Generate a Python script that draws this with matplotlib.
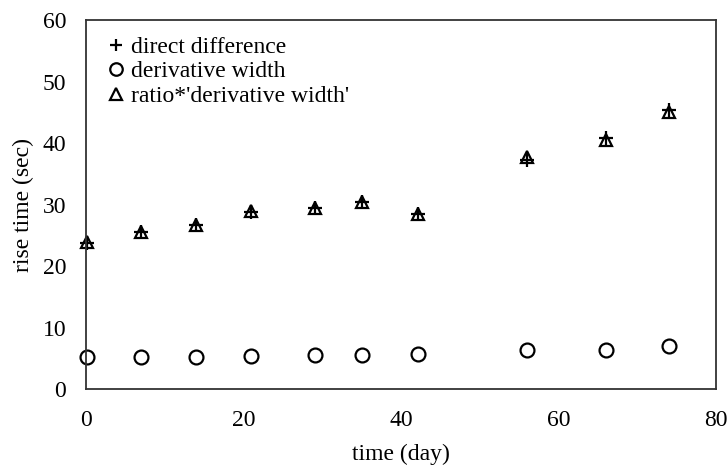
import matplotlib
matplotlib.use("Agg")
import matplotlib.pyplot as plt

plt.rcParams['font.family'] = ['Liberation Serif', 'DejaVu Serif']

# time in days
days = [0.1, 7.0, 14.0, 21.0, 29.1, 35.0, 42.2, 56.0, 66.0, 74.0]
# rise time estimates (sec)
direct_diff = [23.8, 25.6, 26.7, 28.8, 29.4, 30.5, 28.4, 37.2, 40.8, 45.3]
deriv_width = [5.3, 5.3, 5.3, 5.4, 5.5, 5.5, 5.8, 6.4, 6.3, 7.1]
ratio_width = [23.9, 25.6, 26.7, 28.9, 29.4, 30.4, 28.4, 37.8, 40.5, 45.1]

x_ticks = [0, 20, 40, 60, 80]
y_ticks = [0, 10, 20, 30, 40, 50, 60]

fig = plt.figure(figsize=(7.27, 4.65), dpi=100)
ax = fig.add_axes([0.118, 0.163, 0.867, 0.794])

ax.plot(days, direct_diff, linestyle='none', marker='+', ms=10, mew=1.6,
        color='black', label='direct difference', clip_on=False)
ax.plot(days, deriv_width, linestyle='none', marker='o', ms=10, mew=1.6,
        mfc='none', color='black', label='derivative width', clip_on=False)
ax.plot(days, ratio_width, linestyle='none', marker='^', ms=9, mew=1.6,
        mfc='none', color='black', label="ratio*'derivative width'", clip_on=False)

ax.set_xlim(0, 80)
ax.set_ylim(0, 60)
ax.set_xticks(x_ticks)
ax.set_yticks(y_ticks)
ax.tick_params(length=0, labelsize=17)
ax.tick_params(axis='x', pad=15)
ax.tick_params(axis='y', pad=14)
for s in ax.spines.values():
    s.set_linewidth(1.3)
    s.set_color('#333333')

ax.set_xlabel('time (day)', fontsize=17, labelpad=9)
ax.set_ylabel('rise time (sec)', fontsize=17, labelpad=6)

leg = ax.legend(loc='upper left', frameon=False, fontsize=17, handlelength=0.6,
                handletextpad=0.35, labelspacing=0.12, borderaxespad=0.3,
                bbox_to_anchor=(0.01, 1.0), markerscale=0.9)

fig.savefig('out.png', dpi=100)
